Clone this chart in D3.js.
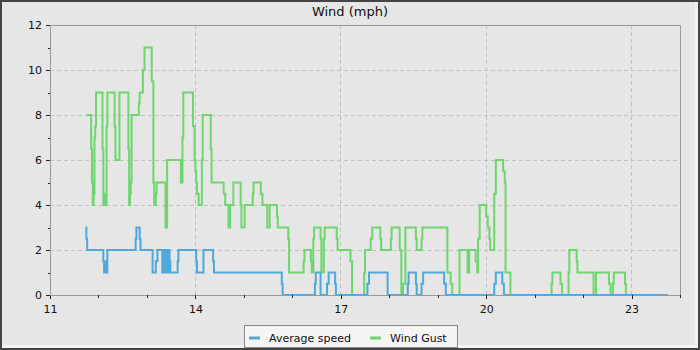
<!DOCTYPE html>
<html>
<head>
<meta charset="utf-8">
<script src="https://cdn.jsdelivr.net/npm/d3@7"></script>
<style>
  html, body { margin: 0; padding: 0; background: #e6e6e6; }
  svg { display: block; font-family: "DejaVu Sans", sans-serif; }
</style>
</head>
<body>
<svg id="chart" width="700" height="350"></svg>
<script>
// Wind readings for the day, stored as change points of a stepped series
const gustTimes = ["11:45","11:51","11:52","11:53","11:54","11:55","11:56","11:57","12:05","12:06","12:07","12:08","12:10","12:11","12:20","12:21","12:26","12:37","12:38","12:39","12:40","12:41","12:50","12:51","12:55","12:57","13:06","13:08","13:09","13:11","13:12","13:23","13:25","13:42","13:44","13:45","13:57","13:59","14:00","14:01","14:02","14:04","14:08","14:09","14:19","14:20","14:35","14:37","14:41","14:43","14:47","14:56","14:57","15:01","15:11","15:12","15:21","15:23","15:29","15:32","15:41","15:42","15:55","15:56","16:14","16:15","16:23","16:24","16:26","16:27","16:35","16:36","16:39","16:40","16:55","16:56","17:12","17:14","17:29","17:30","17:37","17:39","17:49","17:50","18:02","18:03","18:13","18:15","18:17","18:20","18:33","18:34","18:40","18:41","19:12","19:16","19:18","19:27","19:37","19:39","19:47","19:49","19:50","19:52","20:00","20:02","20:04","20:05","20:10","20:12","20:21","20:23","20:24","20:30","21:21","21:22","21:32","21:34","21:42","21:43","21:52","21:53","22:13","22:16","22:32","22:34","22:37","22:38","22:52","22:53","23:45"];
const gustMph = [8,6.5,5,4,4.5,7,7.5,9,6.5,4,4.5,4,7.5,9,7.5,6,9,6.5,4,4.5,5,8,8.5,9,10,11,9.5,5,4,4.5,5,3,6,5,7,9,7.5,6,5.5,5,4.5,4,6,8,6.5,5,4.5,4,3,4,5,4,3,4,4.5,5,4.5,4,3,4,3.5,3,2.5,1,1.5,2,1.5,1,2.5,3,2.5,1,2.5,3,2.5,2,1.5,0,1,2,2.5,3,2.5,2,2.5,3,2,0,0.5,3,2.5,2,2.5,3,1,0.5,0,2,1,2,1.5,1,2.5,4,3.5,3,2.5,2,4.5,6,5.5,5,1,0,0.5,1,0.5,0,1,2,1.5,1,0,1,0.5,0,0.5,1,0.5,0,0];

const avgTimes = ["11:44","11:45","11:46","12:06","12:07","12:08","12:09","12:11","12:46","12:47","12:51","12:52","13:07","13:11","13:13","13:19","13:21","13:22","13:24","13:25","13:27","13:28","13:29","13:38","13:39","14:01","14:02","14:10","14:22","14:23","15:47","15:48","16:28","16:29","16:35","16:43","16:45","16:53","16:54","17:33","17:35","17:58","18:23","18:24","18:33","18:34","18:40","18:42","19:08","19:10","20:10","20:12","20:20","20:22","23:45"];
const avgMph = [3,2.5,2,1.5,1,1.5,1,2,2.5,3,2.5,2,1,1.5,2,1,2,1,2,1,2,1.5,1,1.5,2,1.5,1,2,1.5,1,0.5,0,0.5,1,0,0.5,1,0.5,0,0.5,1,0,0.5,1,0.5,0,0.5,1,0.5,0,0.5,1,0.5,0,0];

const hourTicks = d3.range(11, 25);
const hourLabels = [11, 14, 17, 20, 23];
const mphMajor = [0, 2, 4, 6, 8, 10, 12];
const mphMinor = [1, 3, 5, 7, 9, 11];

const seriesNames = ["Average speed", "Wind Gust"];
const seriesColors = ["#4ea8dc", "#6dd66d"];

const toHours = s => { const [h, m] = s.split(":").map(Number); return h + m / 60; };
const gust = gustTimes.map((t, i) => ({ t: toHours(t), v: gustMph[i] }));
const avg = avgTimes.map((t, i) => ({ t: toHours(t), v: avgMph[i] }));

const W = 700, H = 350;
const plot = { left: 50, right: 680, top: 25, bottom: 295 };

const svg = d3.select("#chart");

// panel background with a bevelled frame
svg.append("rect").attr("x", 0).attr("y", 0).attr("width", W).attr("height", H).attr("fill", "#e6e6e6");
svg.append("rect").attr("x", 695).attr("y", 2).attr("width", 3).attr("height", 346).attr("fill", "#f4f4f4");
svg.append("rect").attr("x", 2).attr("y", 345).attr("width", 696).attr("height", 3).attr("fill", "#f4f4f4");
svg.append("rect").attr("x", 1).attr("y", 1).attr("width", W - 2).attr("height", H - 2)
  .attr("fill", "none").attr("stroke", "#444").attr("stroke-width", 2);

const x = d3.scaleLinear().domain([11, 24]).range([plot.left, plot.right]);
const y = d3.scaleLinear().domain([0, 12]).range([plot.bottom, plot.top]);

// dashed grid
const grid = svg.append("g").attr("stroke", "#c0c0c0").attr("stroke-dasharray", "4,3").attr("shape-rendering", "crispEdges");
grid.selectAll("line.h").data(mphMajor.filter(d => d > 0 && d < 12)).join("line")
  .attr("x1", plot.left).attr("x2", plot.right)
  .attr("y1", d => y(d)).attr("y2", d => y(d));
grid.selectAll("line.v").data(hourLabels.filter(d => d > 11)).join("line")
  .attr("y1", plot.top).attr("y2", plot.bottom)
  .attr("x1", d => x(d)).attr("x2", d => x(d));

// plot frame (top and right)
svg.append("path")
  .attr("d", `M${plot.left},${plot.top}H${plot.right}V${plot.bottom}`)
  .attr("fill", "none").attr("stroke", "#999").attr("shape-rendering", "crispEdges");

// series lines
const line = d3.line().x(d => x(d.t)).y(d => y(d.v)).curve(d3.curveStepAfter);
svg.append("path").datum(gust).attr("d", line)
  .attr("fill", "none").attr("stroke", seriesColors[1]).attr("stroke-width", 2);
svg.append("path").datum(avg).attr("d", line)
  .attr("fill", "none").attr("stroke", seriesColors[0]).attr("stroke-width", 2);

// axes
function styleAxis(g) {
  g.select(".domain").attr("stroke", "#999");
  g.selectAll(".tick line").attr("stroke", "#222");
  g.selectAll(".tick text").attr("fill", "#111").attr("font-size", 11).attr("font-family", "DejaVu Sans, sans-serif");
  g.attr("shape-rendering", "crispEdges");
}

svg.append("g").attr("transform", `translate(0,${plot.bottom})`)
  .call(d3.axisBottom(x).tickValues(hourTicks).tickSize(3).tickFormat(""))
  .call(styleAxis);
svg.append("g").attr("transform", `translate(0,${plot.bottom})`)
  .call(d3.axisBottom(x).tickValues(hourLabels).tickSize(4).tickPadding(6).tickFormat(d3.format("d")))
  .call(styleAxis)
  .call(g => g.select(".domain").remove());

svg.append("g").attr("transform", `translate(${plot.left},0)`)
  .call(d3.axisLeft(y).tickValues(mphMinor).tickSize(2).tickFormat(""))
  .call(styleAxis);
svg.append("g").attr("transform", `translate(${plot.left},0)`)
  .call(d3.axisLeft(y).tickValues(mphMajor).tickSize(4).tickPadding(4).tickFormat(d3.format("d")))
  .call(styleAxis)
  .call(g => g.select(".domain").remove());

// title
svg.append("text").attr("x", 350).attr("y", 16).attr("text-anchor", "middle")
  .attr("font-size", 13).attr("fill", "#111").text("Wind (mph)");

// legend
const legend = svg.append("g");
legend.append("rect").attr("x", 244.5).attr("y", 325.5).attr("width", 213).attr("height", 22)
  .attr("fill", "#f5f5f5").attr("stroke", "#888");
const items = [{ x: 249, tx: 269 }, { x: 370, tx: 390 }];
items.forEach((it, i) => {
  legend.append("line").attr("x1", it.x).attr("x2", it.x + 11).attr("y1", 338).attr("y2", 338)
    .attr("stroke", seriesColors[i]).attr("stroke-width", 3);
  legend.append("text").attr("x", it.tx).attr("y", 342).attr("font-size", 11).attr("fill", "#111")
    .text(seriesNames[i]);
});
</script>
</body>
</html>
